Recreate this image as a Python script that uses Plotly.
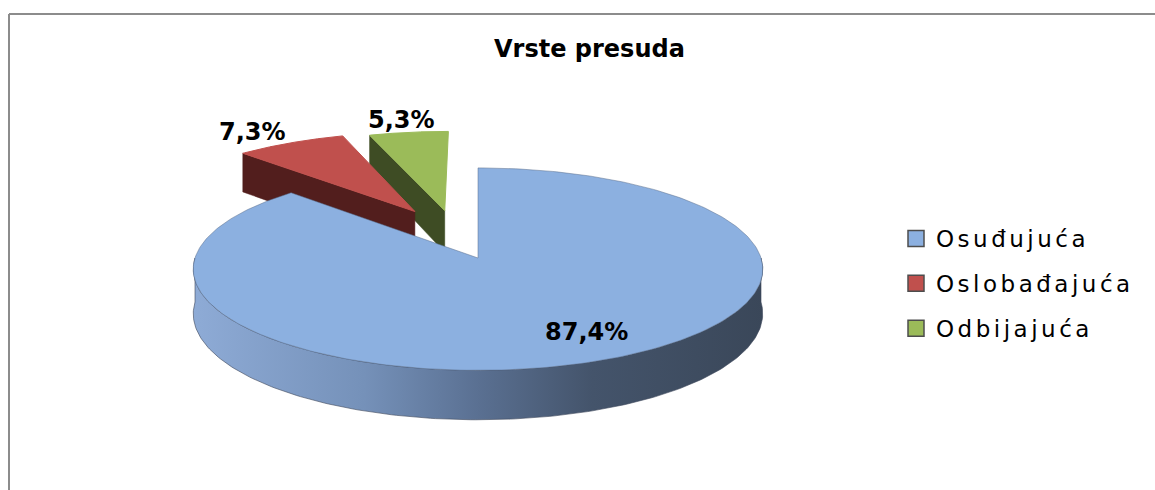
import numpy as np
import plotly.graph_objects as go

# ---------------- data ----------------
categories = ["Osuđujuća", "Oslobađajuća", "Odbijajuća"]
values = [87.4, 7.3, 5.3]
labels = ["87,4%", "7,3%", "5,3%"]
title_text = "Vrste presuda"

# ---------------- style ----------------
top_colors = ["#8cb0e0", "#c0504d", "#9bbb59"]
side_colors = ["#6f89b0", "#521e1d", "#3e4c24"]
blue_side_scale = [[0, "#8eabd6"], [0.3, "#7591b9"], [0.5, "#5a7092"],
                   [0.7, "#44546b"], [1, "#3a4759"]]
explode = [(0.0, 0.0), (-0.235, 0.49), (-0.124, 0.50)]   # (dX, dZ) in pie radii
label_r = [0.8, 1.0, 1.0]
label_shift = [(13, -6), (-38, -11), (-7, -12)]

W, H = 1155, 490
CX, CY = 478.0, 258.0      # pie centre (px)
A, B = 283.0, 100.0        # ellipse semi-axes (px)
P = 0.11                   # perspective strength
T = 44.0                   # thickness (px)


def proj(X, Z, h=0.0):
    s = 1.0 / (1.0 + P * Z + 0.04 * max(Z - 1.0, 0.0))
    return CX + A * X * s, CY - B * Z * s + h * T * s


vals = np.array(values, dtype=float)
frac = vals / vals.sum()
ends = np.cumsum(frac) * 2 * np.pi
starts = ends - frac * 2 * np.pi

fig = go.Figure()

slices = []
for i in range(len(values)):
    t0, t1 = starts[i], ends[i]
    mid = 0.5 * (t0 + t1)
    ox, oz = explode[i]
    slices.append((oz, i, t0, t1, mid, ox))
slices.sort(key=lambda r: -r[0])

for oz, i, t0, t1, mid, ox in slices:
    # radial faces
    for t, sign in ((t0, -1), (t1, 1)):
        nz = np.cos(t + sign * np.pi / 2)
        if nz < -1e-6:
            pts = [proj(ox, oz, 0), proj(ox + np.sin(t), oz + np.cos(t), 0),
                   proj(ox + np.sin(t), oz + np.cos(t), 1), proj(ox, oz, 1)]
            xs = [p[0] for p in pts] + [pts[0][0]]
            ys = [p[1] for p in pts] + [pts[0][1]]
            fig.add_trace(go.Scatter(x=xs, y=ys, mode="lines", fill="toself",
                                     fillcolor=side_colors[i],
                                     line=dict(color=side_colors[i], width=0.5),
                                     hoverinfo="skip", showlegend=False,
                                     legendgroup=categories[i]))
    # outer front side
    a0, a1 = max(t0, np.pi / 2), min(t1, 3 * np.pi / 2)
    if a1 > a0:
        th = np.linspace(a0, a1, 200)
        top = [proj(ox + np.sin(t), oz + np.cos(t), 0) for t in th]
        bot = [proj(ox + np.sin(t), oz + np.cos(t), 1) for t in th[::-1]]
        pts = top + bot + [top[0]]
        kw = {}
        if i == 0:
            kw["fillgradient"] = dict(type="horizontal", colorscale=blue_side_scale)
        fig.add_trace(go.Scatter(x=[p[0] for p in pts], y=[p[1] for p in pts],
                                 mode="lines", fill="toself",
                                 fillcolor=side_colors[i],
                                 line=dict(color="rgba(60,70,90,0.6)", width=1),
                                 hoverinfo="skip", showlegend=False,
                                 legendgroup=categories[i], **kw))
    # top face
    th = np.linspace(t0, t1, 300)
    pts = [proj(ox, oz)] + [proj(ox + np.sin(t), oz + np.cos(t)) for t in th] + [proj(ox, oz)]
    fig.add_trace(go.Scatter(x=[p[0] for p in pts], y=[p[1] for p in pts],
                             mode="lines", fill="toself", fillcolor=top_colors[i],
                             line=dict(color="rgba(90,110,140,0.5)" if i == 0 else top_colors[i], width=1),
                             name=categories[i], legendgroup=categories[i],
                             showlegend=False, hoverinfo="name"))
    # label
    r = label_r[i]
    lx, ly = proj(ox + r * np.sin(mid), oz + r * np.cos(mid))
    fig.add_annotation(x=lx + label_shift[i][0], y=ly + label_shift[i][1],
                       text="<b>%s</b>" % labels[i], showarrow=False,
                       xanchor="center", yanchor="middle",
                       font=dict(family="DejaVu Sans", size=24, color="black"))

# legend entries
for i, c in enumerate(categories):
    fig.add_trace(go.Scatter(x=[None], y=[None], mode="markers", name=c,
                             legendgroup=c,
                             marker=dict(symbol="square", size=16, color=top_colors[i],
                                         line=dict(color="#4d4d4d", width=1.5))))

# chart frame (left and top edges only; the rest lies outside the crop)
fig.add_shape(type="line", x0=9 / W, x1=1, y0=1 - 14 / H, y1=1 - 14 / H,
              xref="paper", yref="paper", line=dict(color="#8c8c8c", width=2))
fig.add_shape(type="line", x0=9 / W, x1=9 / W, y0=1 - 14 / H, y1=0,
              xref="paper", yref="paper", line=dict(color="#8c8c8c", width=2))

fig.add_annotation(x=589, y=49, xref="x", yref="y", text="<b>%s</b>" % title_text,
                   showarrow=False, xanchor="center", yanchor="middle",
                   font=dict(family="DejaVu Sans", size=24, color="black"))

fig.update_layout(
    width=W, height=H, autosize=False,
    margin=dict(l=0, r=0, t=0, b=0),
    paper_bgcolor="white", plot_bgcolor="white",
    xaxis=dict(range=[0, W], visible=False, fixedrange=True),
    yaxis=dict(range=[H, 0], visible=False, fixedrange=True),
    legend=dict(x=896 / W, y=1 - 217 / H, xanchor="left", yanchor="top",
                font=dict(family="DejaVu Sans", size=23, color="black"),
                tracegroupgap=12, bgcolor="rgba(0,0,0,0)"),
    showlegend=True,
)

post = """
var st = document.createElement('style');
st.textContent = 'html,body{margin:0;padding:0;overflow:hidden;scrollbar-width:none;}' +
                 '::-webkit-scrollbar{display:none;width:0;height:0;}' +
                 '.legendtext{letter-spacing:3.5px;}';
document.head.appendChild(st);
document.querySelectorAll('.legend [clip-path]').forEach(function(e){ e.removeAttribute('clip-path'); });
"""

fig.write_html("out.html", config={"displayModeBar": False}, post_script=post)
